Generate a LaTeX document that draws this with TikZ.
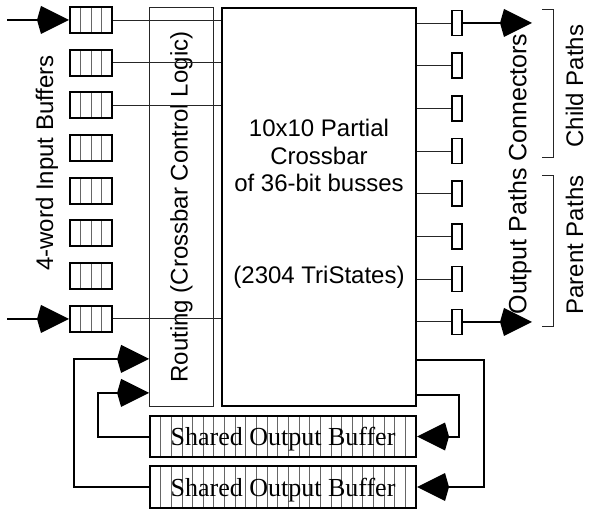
\documentclass[tikz,border=0pt]{standalone}
\usepackage{fontspec}
\setmainfont{Liberation Sans}
\newfontfamily\bufserif{Liberation Serif}
\usetikzlibrary{arrows.meta}

\begin{document}
\begin{tikzpicture}[
    x=1pt, y=-1pt,
    % Thin cell divider inside buffers
    cellline/.style={line width=0.7pt, black!60},
    % Input buffer: four word cells
    inbuf/.style={
        rectangle, draw=black, line width=2pt,
        minimum width=42pt, minimum height=26pt, inner sep=0pt,
        path picture={
            \foreach \k in {1,2,3}
                \draw[cellline] ([xshift=\k*10.5pt]path picture bounding box.south west)
                    -- ([xshift=\k*10.5pt]path picture bounding box.north west);
        }
    },
    % Output path connector
    outcon/.style={
        rectangle, draw=black, line width=1.6pt,
        minimum width=10.5pt, minimum height=25pt, inner sep=0pt
    },
    % Shared output buffer: many cells, serif text
    sbuf/.style={
        rectangle, draw=black, line width=2pt,
        minimum width=266pt, inner sep=0pt, text depth=0pt,
        font=\bufserif\fontsize{26}{30}\selectfont,
        path picture={
            \foreach \k in {1,...,24}
                \draw[cellline] ([xshift=\k*10.64pt]path picture bounding box.south west)
                    -- ([xshift=\k*10.64pt]path picture bounding box.north west);
        }
    },
    % Routing logic block
    rout/.style={
        rectangle, draw=black!85, line width=0.8pt,
        minimum width=64pt, minimum height=399pt, inner sep=0pt
    },
    % Crossbar block
    xbar/.style={
        rectangle, draw=black, line width=2pt,
        minimum width=194pt, minimum height=398pt, inner sep=0pt
    },
    % Rotated side label
    vlbl/.style={rotate=90, font=\fontsize{24}{28}\selectfont, inner sep=0pt},
    % Thin wire
    wire/.style={line width=0.8pt, black!85},
    % Thick wire with big head
    bigarr/.style={line width=2pt, -{Kite[length=32pt, width=28pt, inset=4pt]}},
    % Bracket
    brkt/.style={line width=0.8pt, black!85},
]
\useasboundingbox (0,0) rectangle (589,510);

% ============================================================
% INPUT SIDE
% ============================================================
\node[inbuf] (inb1) at (91, 20.0)  {};
\node[inbuf] (inb2) at (91, 62.7)  {};
\node[inbuf] (inb3) at (91, 105.4) {};
\node[inbuf] (inb4) at (91, 148.1) {};
\node[inbuf] (inb5) at (91, 190.8) {};
\node[inbuf] (inb6) at (91, 233.5) {};
\node[inbuf] (inb7) at (91, 276.2) {};
\node[inbuf] (inb8) at (91, 318.9) {};

\node[vlbl] (inlbl) at (47, 163) {4-word Input Buffers};

\coordinate (in-top) at (7, 20.0);
\coordinate (in-bot) at (7, 318.9);
\draw[bigarr] (in-top) -- (inb1.west);
\draw[bigarr] (in-bot) -- (inb8.west);

% ============================================================
% ROUTING AND CROSSBAR
% ============================================================
\node[rout] (routing) at (181.5, 207) {};
\node[vlbl] (routlbl) at (routing.center) {Routing (Crossbar Control Logic)};

\node[xbar] (crossbar) at (319, 207) {};
\node[font=\fontsize{24}{27.5}\selectfont, align=center, inner sep=0pt] (xbartxt)
    at (319, 204) {10x10 Partial\\Crossbar\\of 36-bit busses\\[64pt](2304 TriStates)};

% Wires from input buffers into the crossbar
\draw[wire] (inb1.east) -- (inb1.east -| crossbar.west);
\draw[wire] (inb2.east) -- (inb2.east -| crossbar.west);
\draw[wire] (inb3.east) -- (inb3.east -| crossbar.west);
\draw[wire] (inb8.east) -- (inb8.east -| crossbar.west);

% ============================================================
% OUTPUT SIDE
% ============================================================
\node[outcon] (outc1) at (457, 23.0)  {};
\node[outcon] (outc2) at (457, 65.7)  {};
\node[outcon] (outc3) at (457, 108.4) {};
\node[outcon] (outc4) at (457, 151.1) {};
\node[outcon] (outc5) at (457, 193.8) {};
\node[outcon] (outc6) at (457, 236.5) {};
\node[outcon] (outc7) at (457, 279.2) {};
\node[outcon] (outc8) at (457, 321.9) {};

\draw[wire] (outc1.west -| crossbar.east) -- (outc1.west);
\draw[wire] (outc2.west -| crossbar.east) -- (outc2.west);
\draw[wire] (outc3.west -| crossbar.east) -- (outc3.west);
\draw[wire] (outc4.west -| crossbar.east) -- (outc4.west);
\draw[wire] (outc5.west -| crossbar.east) -- (outc5.west);
\draw[wire] (outc6.west -| crossbar.east) -- (outc6.west);
\draw[wire] (outc7.west -| crossbar.east) -- (outc7.west);
\draw[wire] (outc8.west -| crossbar.east) -- (outc8.west);

\coordinate (child-out)  at (532, 23.0);
\coordinate (parent-out) at (532, 321.9);
\draw[bigarr] (outc1.east) -- (child-out);
\draw[bigarr] (outc8.east) -- (parent-out);

\node[vlbl, font=\fontsize{25}{28}\selectfont] (outlbl) at (520, 174) {Output Paths Connectors};
\node[vlbl] (childlbl)  at (574.5, 86)  {Child Paths};
\node[vlbl] (parentlbl) at (574.5, 245) {Parent Paths};

% Brackets grouping the paths
\draw[brkt] (542, 9)   -| (553, 157) -- (542, 157);
\draw[brkt] (542, 175) -| (553, 326) -- (542, 326);

% ============================================================
% SHARED OUTPUT BUFFERS AND FEEDBACK LOOPS
% ============================================================
\node[sbuf, minimum height=41pt] (sbuf1) at (283, 436.5) {Shared Output Buffer};
\node[sbuf, minimum height=42pt] (sbuf2) at (283, 487)   {Shared Output Buffer};

\draw[bigarr] ([yshift=47pt]crossbar.south east) -- ++(67,0) |- (sbuf2.east);
\draw[bigarr] ([yshift=12pt]crossbar.south east) -- ++(42,0) |- (sbuf1.east);
\draw[bigarr] (sbuf2.west) -- ++(-75,0) |- ([yshift=48pt]routing.south west);
\draw[bigarr] (sbuf1.west) -- ++(-51,0) |- ([yshift=14pt]routing.south west);

\end{tikzpicture}
\end{document}
